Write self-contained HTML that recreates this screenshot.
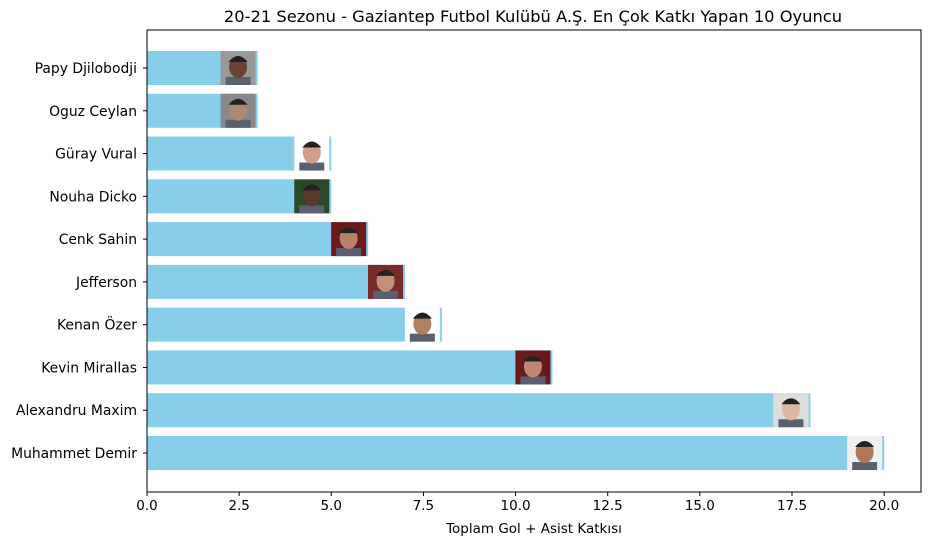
<!DOCTYPE html>
<html><head><meta charset="utf-8"><style>
body{margin:0;background:#fff;font-family:"Liberation Sans","DejaVu Sans",sans-serif}
</style></head><body>
<svg id="chart" width="930" height="545" font-family="'DejaVu Sans','Liberation Sans',sans-serif"></svg>
<script>
const players=["Muhammet Demir","Alexandru Maxim","Kevin Mirallas","Kenan Özer","Jefferson","Cenk Sahin","Nouha Dicko","Güray Vural","Oguz Ceylan","Papy Djilobodji"];
const values=[20,18,11,8,7,6,5,5,3,3];
const xTicks=[0,2.5,5,7.5,10,12.5,15,17.5,20];
const xTickLabels=["0.0","2.5","5.0","7.5","10.0","12.5","15.0","17.5","20.0"];
const skin=["#b07a5a","#e0b8a0","#c08870","#b08060","#c09078","#b88068","#5a3a28","#d0a088","#b08870","#6a4430"];
const bgc=["#f0f0f0","#ddd","#6a1a1a","#fff","#7a2a2a","#6a1a1a","#2a4a2a","#fff","#888","#999"];
const NS="http://www.w3.org/2000/svg";
const svg=document.getElementById('chart');
const L=147,R=921,T=30,B=492,xmax=21.0;
const x=v=>L+v/xmax*(R-L);
const y=i=>453-i*42.78;
function mk(t,a,p){const e=document.createElementNS(NS,t);for(const k in a)e.setAttribute(k,a[k]);(p||svg).appendChild(e);return e;}
const title=mk('text',{x:533,y:22,'text-anchor':'middle','font-size':16.3});
title.textContent="20-21 Sezonu - Gaziantep Futbol Kulübü A.Ş. En Çok Katkı Yapan 10 Oyuncu";


players.forEach((p,i)=>{
  const b=mk('rect',{x:x(0),y:y(i)-17,width:x(values[i])-x(0),height:34,fill:'#87ceeb'});
  
  
  const ix=x(values[i])-37;
  const g=mk('g',{});
  
  
  mk('rect',{x:ix,y:y(i)-17,width:35,height:34,fill:bgc[i]},g);
  mk('rect',{x:ix+5,y:y(i)+9,width:25,height:8,fill:'#5a6070'},g);
  mk('ellipse',{cx:ix+17.5,cy:y(i)-1,rx:9,ry:11,fill:skin[i]},g);
  mk('path',{d:`M${ix+8} ${y(i)-6} Q${ix+17.5} ${y(i)-18} ${ix+27} ${y(i)-6}`,fill:'#222'},g);
  const lab=mk('text',{x:137,y:y(i)+5,'text-anchor':'end','font-size':13.9});
  lab.textContent=p;
  
  
  mk('line',{x1:143,x2:147,y1:y(i),y2:y(i),stroke:'#000'});
});
xTicks.forEach((t,k)=>{
  mk('line',{x1:x(t),x2:x(t),y1:B,y2:B+4,stroke:'#000'});
  const tl=mk('text',{x:x(t),y:B+18,'text-anchor':'middle','font-size':13.5});
  tl.textContent=xTickLabels[k];
  
  
});
const fr=mk('rect',{x:L,y:T,width:R-L,height:B-T,fill:'none',stroke:'#000','stroke-width':1});


const xt=mk('text',{x:534,y:533,'text-anchor':'middle','font-size':13.5});
xt.textContent="Toplam Gol + Asist Katkısı";


</script>
</body></html>
